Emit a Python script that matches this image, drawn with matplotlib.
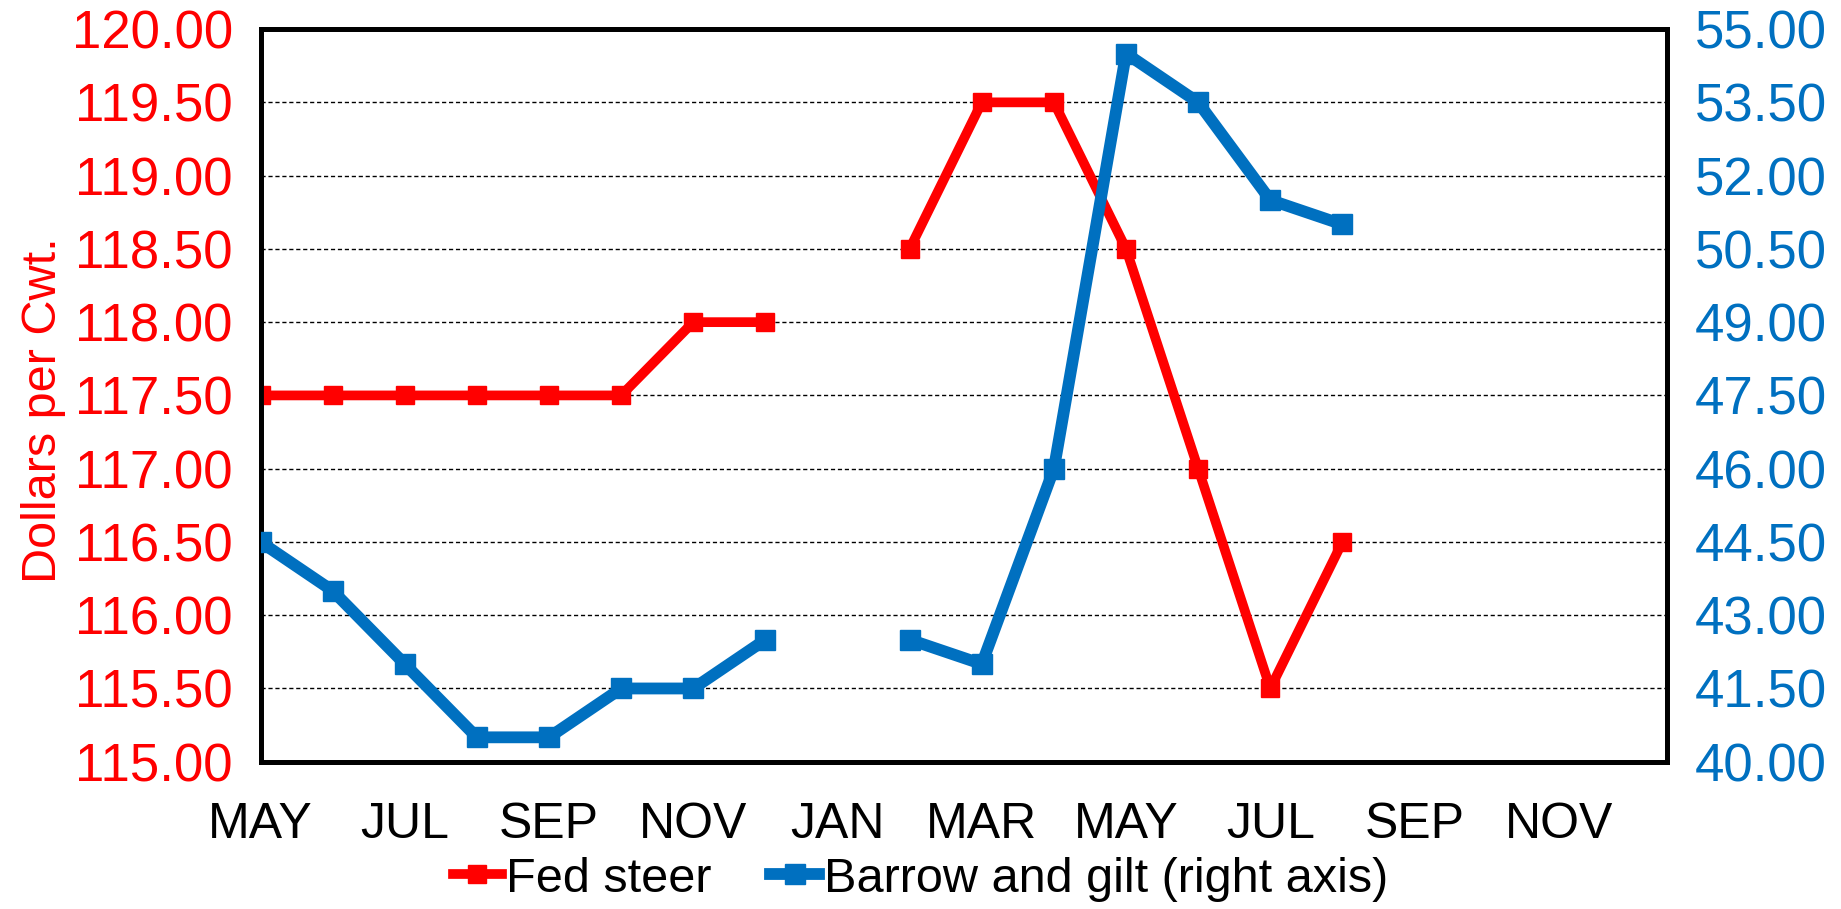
import matplotlib.pyplot as plt
import numpy as np

MONTHS = ["MAY", "JUN", "JUL", "AUG", "SEP", "OCT", "NOV", "DEC",
          "JAN", "FEB", "MAR", "APR", "MAY", "JUN", "JUL", "AUG",
          "SEP", "OCT", "NOV"]
FED_STEER = [117.5, 117.5, 117.5, 117.5, 117.5, 117.5, 118.0, 118.0,
             np.nan, 118.5, 119.5, 119.5, 118.5, 117.0, 115.5, 116.5]
BARROW_GILT = [44.5, 43.5, 42.0, 40.5, 40.5, 41.5, 41.5, 42.5,
               np.nan, 42.5, 42.0, 46.0, 54.5, 53.5, 51.5, 51.0]

RED = "#FF0000"
BLUE = "#0070C0"


def main() -> None:
    plt.rcParams["font.family"] = ["Liberation Sans", "DejaVu Sans"]

    fig = plt.figure(figsize=(18.41, 9.09), dpi=100)
    ax = fig.add_axes([0.1415, 0.162, 0.764, 0.806])
    ax2 = ax.twinx()

    x = np.arange(len(FED_STEER))
    l1, = ax.plot(x, FED_STEER, color=RED, lw=7, marker="s", ms=13,
                  label="Fed steer", zorder=3)
    l2, = ax2.plot(x, BARROW_GILT, color=BLUE, lw=8.5, marker="s", ms=14,
                   label="Barrow and gilt (right axis)", zorder=3)

    ax.set_xlim(0, 19.5)
    ax.set_ylim(115, 120)
    ax2.set_ylim(40, 55)
    ax.set_yticks(np.arange(115, 120.01, 0.5))
    ax2.set_yticks(np.arange(40, 55.01, 1.5))
    ax.yaxis.set_major_formatter(plt.FormatStrFormatter("%.2f"))
    ax2.yaxis.set_major_formatter(plt.FormatStrFormatter("%.2f"))

    ax.set_xticks(np.arange(0, len(MONTHS), 2))
    ax.set_xticklabels(MONTHS[::2])

    ax.grid(axis="y", color="black", linestyle=(0, (3, 2)), lw=1)
    ax.tick_params(axis="x", length=0, pad=29, labelsize=36)
    ax.tick_params(axis="y", length=0, pad=20, labelsize=38, colors=RED)
    ax2.tick_params(axis="y", length=0, pad=20, labelsize=38, colors=BLUE)

    for a in (ax, ax2):
        for s in a.spines.values():
            s.set_linewidth(3.5)
            s.set_color("black")

    ax.set_ylabel("Dollars per Cwt.", color=RED, fontsize=35)
    ax.yaxis.set_label_coords(-0.138, 0.48)

    fig.legend(handles=[l1, l2], loc="center", bbox_to_anchor=(0.5, 0.033),
               ncol=2, frameon=False, fontsize=35, handlelength=1.0,
               handletextpad=0.1, columnspacing=1.2)

    fig.savefig("out.png", dpi=100)
    plt.close(fig)


if __name__ == "__main__":
    main()
